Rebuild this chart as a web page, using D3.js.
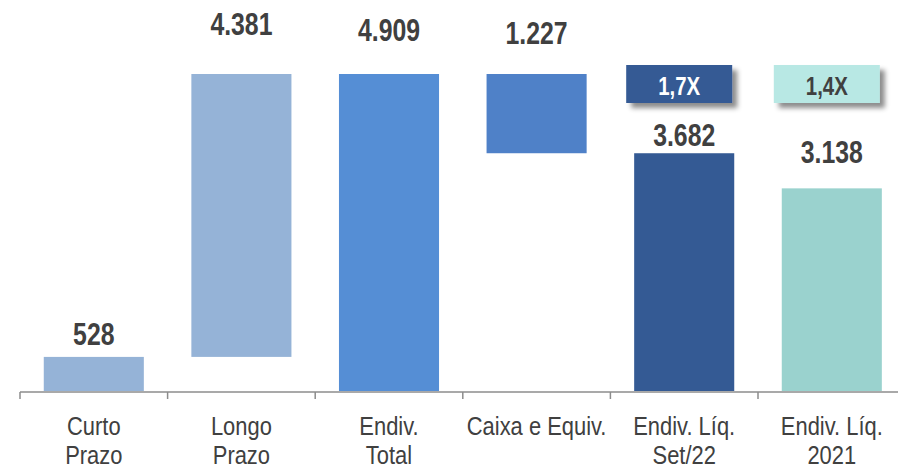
<!DOCTYPE html>
<html>
<head>
<meta charset="utf-8">
<script src="https://cdn.jsdelivr.net/npm/d3@7"></script>
<style>
  html, body { margin: 0; padding: 0; background: #fff; }
  svg { display: block; }
  text { font-family: "Liberation Sans Narrow", "Arial Narrow", "Liberation Sans", Arial, sans-serif; }
</style>
</head>
<body>
<svg id="chart" width="898" height="468"></svg>
<script>
// ---- data ----
const categories = [["Curto", "Prazo"], ["Longo", "Prazo"], ["Endiv.", "Total"], ["Caixa e Equiv."], ["Endiv. Líq.", "Set/22"], ["Endiv. Líq.", "2021"]];
const barBase   = [0, 528, 0, 3682, 0, 0];
const barTop    = [528, 4909, 4909, 4909, 3682, 3138];
const valueLabels = ["528", "4.381", "4.909", "1.227", "3.682", "3.138"];
const badgeLabels = [null, null, null, null, "1,7X", "1,4X"];

// ---- style / layout ----
const barColors   = ["#95B3D7", "#95B3D7", "#558ED5", "#4F81C8", "#345A94", "#9AD2CE"];
const badgeFill   = [null, null, null, null, "#345A94", "#B8E8E4"];
const badgeText   = [null, null, null, null, "#FFFFFF", "#404040"];
const labelGap    = [12, 39, 33, 30, 7, 25];
const SX = 0.8;   // narrow-font emulation for bold labels
const SXC = 0.86; // for category labels

const svg = d3.select("#chart");
const W = 898, H = 468;

const defs = svg.append("defs");
const f = defs.append("filter").attr("id", "shadow").attr("x", "-20%").attr("y", "-30%").attr("width", "150%").attr("height", "180%");
f.append("feDropShadow").attr("dx", 5).attr("dy", 5).attr("stdDeviation", 2.5).attr("flood-color", "#000").attr("flood-opacity", 0.45);

const idx = d3.range(categories.length);
const x = d3.scaleBand().domain(idx).range([20, 905.6]).paddingInner(0.322).paddingOuter(0.161);
const y = d3.scaleLinear().domain([0, 4909]).range([391, 74]);
const bw = x.bandwidth();
const gapHalf = (x.step() - bw) / 2;

// bars
svg.append("g").selectAll("rect").data(idx).join("rect")
  .attr("x", i => x(i))
  .attr("width", bw)
  .attr("y", i => y(barTop[i]))
  .attr("height", i => y(barBase[i]) - y(barTop[i]))
  .attr("fill", i => barColors[i]);

// axis line + ticks
const axisY = 392;
const ax = svg.append("g").attr("stroke", "#8C8C8C").attr("stroke-width", 1.5);
ax.append("line").attr("x1", 20).attr("x2", W).attr("y1", axisY).attr("y2", axisY);
ax.selectAll("line.tick").data(idx).join("line").attr("class", "tick")
  .attr("x1", i => x(i) - gapHalf).attr("x2", i => x(i) - gapHalf)
  .attr("y1", axisY).attr("y2", axisY + 7);

// category labels
const cl = svg.append("g").selectAll("text").data(idx).join("text")
  .attr("transform", i => `translate(${x(i) + bw / 2},435) scale(${SXC},1)`)
  .attr("text-anchor", "middle")
  .attr("font-size", 25.5)
  .attr("fill", "#404040");
cl.each(function(i) {
  const t = d3.select(this);
  categories[i].forEach((line, k) => {
    t.append("tspan").attr("x", 0).attr("dy", k === 0 ? 0 : 29).text(line);
  });
});

// value labels
svg.append("g").selectAll("text").data(idx).join("text")
  .attr("transform", i => `translate(${x(i) + bw / 2},${y(barTop[i]) - labelGap[i]}) scale(${SX},1)`)
  .attr("text-anchor", "middle")
  .attr("font-size", 31)
  .attr("font-weight", "bold")
  .attr("fill", "#404040")
  .text(i => valueLabels[i]);

// badges
const bIdx = idx.filter(i => badgeLabels[i]);
const bg = svg.append("g").selectAll("g").data(bIdx).join("g");
bg.append("rect")
  .attr("x", i => x(i) + bw / 2 - 58)
  .attr("y", 65)
  .attr("width", 106)
  .attr("height", 38)
  .attr("fill", i => badgeFill[i])
  .attr("filter", "url(#shadow)");
bg.append("text")
  .attr("transform", i => `translate(${x(i) + bw / 2 - 5},95) scale(${SX},1)`)
  .attr("text-anchor", "middle")
  .attr("font-size", 25.5)
  .attr("font-weight", "bold")
  .attr("fill", i => badgeText[i])
  .text(i => badgeLabels[i]);
</script>
</body>
</html>
